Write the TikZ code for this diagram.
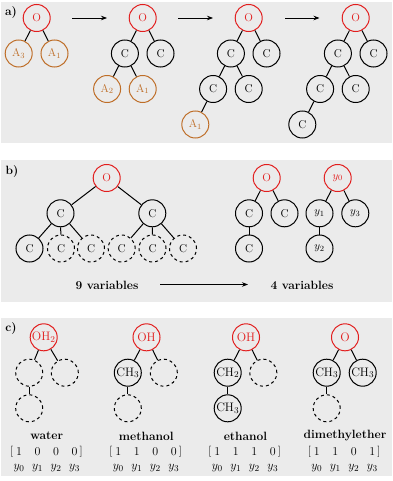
\documentclass[tikz,border=0pt]{standalone}
\usetikzlibrary{arrows.meta}
\definecolor{myred}{RGB}{226,30,30}
\definecolor{myorange}{RGB}{190,110,40}
\definecolor{panelgray}{RGB}{235,235,235}
\newcommand{\molvec}[6]{%
  \node[ent] (#1v0) at (#2,451.7) {$#3$};
  \node[ent] (#1v1) at (#2+18.5,451.7) {$#4$};
  \node[ent] (#1v2) at (#2+37,451.7) {$#5$};
  \node[ent] (#1v3) at (#2+55.5,451.7) {$#6$};
  \node[brk] (#1lb) at (#2-7.3,451.2) {$\big[$};
  \node[brk] (#1rb) at (#2+62.2,451.2) {$\big]$};
  \node[ent] (#1y0) at (#2,468.3) {$y_0$};
  \node[ent] (#1y1) at (#2+18.5,468.3) {$y_1$};
  \node[ent] (#1y2) at (#2+37,468.3) {$y_2$};
  \node[ent] (#1y3) at (#2+55.5,468.3) {$y_3$};
}
\begin{document}
\begin{tikzpicture}[x=1pt,y=-1pt,
 atom/.style={circle,draw,line width=1pt,minimum size=27pt,inner sep=0pt,font=\fontsize{11.3}{13}\selectfont},
 ratom/.style={atom,draw=myred,text=myred},
 aatom/.style={atom,draw=myorange,text=myorange},
 datom/.style={atom,dashed},
 catom/.style={font=\fontsize{12.3}{14}\selectfont},
 bond/.style={line width=1pt},
 flow/.style={line width=0.75pt,-{Stealth[length=6pt,width=4.5pt]}},
 lbl/.style={font=\fontsize{12}{14}\selectfont\bfseries,inner sep=0pt},
 ent/.style={font=\fontsize{12.3}{14}\selectfont,inner sep=0pt},
 brk/.style={font=\fontsize{11.3}{13}\selectfont,inner sep=0pt}]
\useasboundingbox (0,0) rectangle (392,481);
\fill[panelgray] (1,2) rectangle (392,143);
\fill[panelgray] (1,160) rectangle (392,302);
\fill[panelgray] (1,318) rectangle (392,476);

% ---------- panel a ----------
\node[lbl] (la) at (11,12.5) {a)};
% tree 1
\node[ratom] (a1o) at (36.7,18) {O};
\node[aatom] (a1l) at (18.7,53.5) {A$_3$};
\node[aatom] (a1r) at (54.5,53.5) {A$_1$};
\draw[bond] (a1o) -- (a1l); \draw[bond] (a1o) -- (a1r);
% tree 2
\node[ratom] (a2o) at (142.7,18) {O};
\node[atom] (a2l) at (124.9,53.5) {C};
\node[atom] (a2r) at (160.5,53.5) {C};
\node[aatom] (a2ll) at (107.1,89) {A$_2$};
\node[aatom] (a2lr) at (142.7,89) {A$_1$};
\draw[bond] (a2o) -- (a2l); \draw[bond] (a2o) -- (a2r);
\draw[bond] (a2l) -- (a2ll); \draw[bond] (a2l) -- (a2lr);
% tree 3
\node[ratom] (a3o) at (248.7,18) {O};
\node[atom] (a3l) at (230.9,53.5) {C};
\node[atom] (a3r) at (266.5,53.5) {C};
\node[atom] (a3ll) at (213.1,89) {C};
\node[atom] (a3lr) at (248.7,89) {C};
\node[aatom] (a3lll) at (195.3,124.5) {A$_1$};
\draw[bond] (a3o) -- (a3l); \draw[bond] (a3o) -- (a3r);
\draw[bond] (a3l) -- (a3ll); \draw[bond] (a3l) -- (a3lr);
\draw[bond] (a3ll) -- (a3lll);
% tree 4
\node[ratom] (a4o) at (355.7,18) {O};
\node[atom] (a4l) at (337.9,53.5) {C};
\node[atom] (a4r) at (373.5,53.5) {C};
\node[atom] (a4ll) at (320.1,89) {C};
\node[atom] (a4lr) at (355.7,89) {C};
\node[atom] (a4lll) at (302.3,124.5) {C};
\draw[bond] (a4o) -- (a4l); \draw[bond] (a4o) -- (a4r);
\draw[bond] (a4l) -- (a4ll); \draw[bond] (a4l) -- (a4lr);
\draw[bond] (a4ll) -- (a4lll);
% arrows
\coordinate (ar1s) at (72,18); \coordinate (ar1e) at (107,18);
\coordinate (ar2s) at (178,18); \coordinate (ar2e) at (213,18);
\coordinate (ar3s) at (285,18); \coordinate (ar3e) at (319.5,18);
\draw[flow] (ar1s) -- (ar1e);
\draw[flow] (ar2s) -- (ar2e);
\draw[flow] (ar3s) -- (ar3e);

% ---------- panel b ----------
\node[lbl] (lb) at (12,172) {b)};
\node[ratom] (bo) at (106.7,178) {O};
\node[atom] (bl) at (60.5,213.3) {C};
\node[atom] (br) at (152.3,213.3) {C};
\node[atom] (b1) at (29.5,248.5) {C};
\node[datom] (b2) at (61,248.5) {C};
\node[datom] (b3) at (91,248.5) {C};
\node[datom] (b4) at (121.7,248.5) {C};
\node[datom] (b5) at (152.5,248.5) {C};
\node[datom] (b6) at (183,248.5) {C};
\draw[bond] (bo) -- (bl); \draw[bond] (bo) -- (br);
\draw[bond] (bl) -- (b1); \draw[bond] (bl) -- (b2); \draw[bond] (bl) -- (b3);
\draw[bond] (br) -- (b4); \draw[bond] (br) -- (b5); \draw[bond] (br) -- (b6);
% reduced
\node[ratom] (bro) at (266.7,178) {O};
\node[atom] (brl) at (249,213.3) {C};
\node[atom] (brr) at (284.5,213.3) {C};
\node[atom] (brll) at (249,248.5) {C};
\draw[bond] (bro) -- (brl); \draw[bond] (bro) -- (brr); \draw[bond] (brl) -- (brll);
\node[ratom] (by0) at (337.7,178) {$y_0$};
\node[atom] (by1) at (319.5,213.3) {$y_1$};
\node[atom] (by3) at (355.3,213.3) {$y_3$};
\node[atom] (by2) at (319.5,248.5) {$y_2$};
\draw[bond] (by0) -- (by1); \draw[bond] (by0) -- (by3); \draw[bond] (by1) -- (by2);
\node[lbl] (nine) at (107,285) {9 variables};
\node[lbl] (four) at (302,285) {4 variables};
\coordinate (bas) at (160,284.5); \coordinate (bae) at (248,284.5);
\draw[flow] (bas) -- (bae);

% ---------- panel c ----------
\node[lbl] (lc) at (11,329) {c)};
% water
\node[ratom,catom] (wo) at (43.7,337.3) {OH$_2$};
\node[datom] (wl) at (29.2,372.7) {};
\node[datom] (wr) at (64.8,372.7) {};
\node[datom] (wll) at (29.2,408.3) {};
\draw[bond] (wo) -- (wl); \draw[bond] (wo) -- (wr); \draw[bond] (wl) -- (wll);
% methanol
\node[ratom,catom] (mo) at (146.5,337.3) {OH};
\node[atom,catom] (ml) at (127.8,372.7) {CH$_3$};
\node[datom] (mr) at (163.8,372.7) {};
\node[datom] (mll) at (127.8,408.3) {};
\draw[bond] (mo) -- (ml); \draw[bond] (mo) -- (mr); \draw[bond] (ml) -- (mll);
% ethanol
\node[ratom,catom] (eo) at (246,337.3) {OH};
\node[atom,catom] (el) at (227.7,372.7) {CH$_2$};
\node[datom] (er) at (263.3,372.7) {};
\node[atom,catom] (ell) at (227.7,408.3) {CH$_3$};
\draw[bond] (eo) -- (el); \draw[bond] (eo) -- (er); \draw[bond] (el) -- (ell);
% dimethylether
\node[ratom,catom] (do) at (345,337.3) {O};
\node[atom,catom] (dl) at (326.7,372.7) {CH$_3$};
\node[atom,catom] (dr) at (362.7,372.7) {CH$_3$};
\node[datom] (dll) at (326.7,408.3) {};
\draw[bond] (do) -- (dl); \draw[bond] (do) -- (dr); \draw[bond] (dl) -- (dll);
% names
\node[lbl] (wn) at (46.7,436) {water};
\node[lbl] (mn) at (146.3,436) {methanol};
\node[lbl] (en) at (245.5,436) {ethanol};
\node[lbl] (dn) at (345,436) {dimethylether};
% vectors
\molvec{w}{19}{1}{0}{0}{0}
\molvec{m}{118.3}{1}{1}{0}{0}
\molvec{e}{217.3}{1}{1}{1}{0}
\molvec{d}{316.7}{1}{1}{0}{1}
\end{tikzpicture}
\end{document}
